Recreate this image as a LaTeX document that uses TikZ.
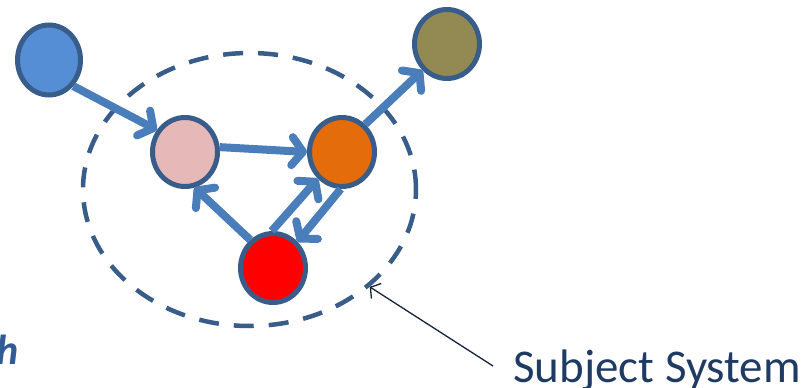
\documentclass[tikz,border=0pt]{standalone}
\usepackage{fontspec}
\setmainfont{Carlito}
\usetikzlibrary{shapes.geometric,arrows.meta}

\definecolor{rimblue}{HTML}{385D8A}
\definecolor{linkblue}{HTML}{4A7EBB}
\definecolor{fillblue}{HTML}{558ED5}
\definecolor{fillpink}{HTML}{E6B9B8}
\definecolor{fillorange}{HTML}{E46C0A}
\definecolor{fillred}{HTML}{FF0000}
\definecolor{fillolive}{HTML}{938953}
\definecolor{labelnavy}{HTML}{1F3B63}
\definecolor{pointernavy}{HTML}{14223A}
\definecolor{letterblue}{HTML}{2F5B96}

\tikzset{
  agent/.style={ellipse, draw=rimblue, line width=5pt, inner sep=0pt,
    minimum width=65pt, minimum height=69pt},
  link/.style={draw=linkblue, line width=8pt,
    -{Straight Barb[length=11pt,width=28pt,round]}},
  boundary/.style={ellipse, draw=rimblue, line width=4.5pt,
    dash pattern=on 20pt off 15pt, inner sep=0pt,
    minimum width=333pt, minimum height=273pt},
  pointer/.style={draw=pointernavy, line width=1.3pt,
    -{Straight Barb[length=7pt,width=18pt]}},
}

\begin{document}
\begin{tikzpicture}[x=1pt,y=-1pt]
  \useasboundingbox (0,0) rectangle (807,388);

  % dashed boundary of the system
  \node[boundary] (sys) at (249.5,189.5) {};

  % agents
  \node[agent, fill=fillblue, minimum width=63pt, minimum height=70pt] (src) at (49,60) {};
  \node[agent, fill=fillpink]   (p) at (185,152) {};
  \node[agent, fill=fillorange] (o) at (342,152) {};
  \node[agent, fill=fillred]    (r) at (273,268) {};
  \node[agent, fill=fillolive]  (g) at (447,44) {};

  % interactions
  \draw[link] (src.313) -- (p.142);
  \draw[link] (p.8) -- (o.180);
  \draw[link] (r.129) -- (p.285);
  \draw[link] (r.92) -- (o.228);
  \draw[link] (o.268) -- (r.47);
  \draw[link] (o.50) -- (g.227);

  % labels
  \node[anchor=base west, inner sep=0pt, text=labelnavy,
        font=\fontsize{47}{56}\selectfont] (lbl) at (513,382) {Subject System};
  \coordinate (lblfoot) at (493,366);
  \draw[pointer] (lblfoot) -- (sys.-39);

  \node[anchor=base west, inner sep=0pt, text=letterblue,
        font=\fontsize{42}{50}\selectfont\bfseries\itshape] (hh) at (-4,364) {h};
\end{tikzpicture}
\end{document}
